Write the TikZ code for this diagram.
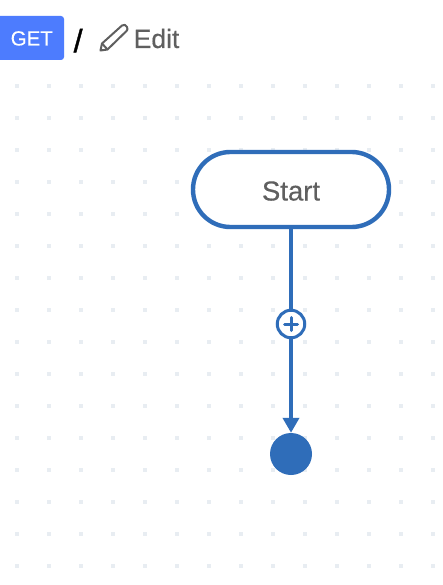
\documentclass[tikz,border=0pt]{standalone}
\usepackage{fontspec}
\setmainfont{Liberation Sans}
\newfontfamily\medfont[FakeBold=0.35]{Liberation Sans}
\newfontfamily\slashfont[FakeBold=1.2]{Liberation Sans}
\usetikzlibrary{arrows.meta}
\definecolor{flow}{HTML}{2F6DB9}
\definecolor{getblue}{HTML}{4D7CFE}
\definecolor{gtext}{HTML}{5F5F5F}
\definecolor{griddot}{HTML}{E8EDF2}
\tikzset{
  griddotstyle/.style={griddot,line width=0pt},
  startbox/.style={draw=flow,line width=4.4pt,fill=white,rounded corners=37.4pt,minimum width=196pt,minimum height=75pt,inner sep=0pt},
  endnode/.style={circle,fill=flow,minimum size=42pt,inner sep=0pt},
  plusnode/.style={circle,draw=flow,line width=3pt,fill=white,minimum size=27.5pt,inner sep=0pt},
  flowline/.style={draw=flow,line width=3.8pt},
  crumb/.style={inner sep=0pt,anchor=base west}
}
\begin{document}
\begin{tikzpicture}[x=1pt,y=-1pt]
\useasboundingbox (0,0) rectangle (442,585);
\fill[white] (0,0) rectangle (442,585);
\foreach \i in {0,...,13}{
  \foreach \j in {0,...,15}{
    \fill[griddotstyle] ({17+32*\i-2},{86+32*\j-2}) rectangle ++(4,4);
  }
}
\node[startbox] (start) at (291,189.5) {};
\node[crumb,text=gtext,font=\medfont\fontsize{27.5}{27.5}\selectfont,anchor=base] (startlabel) at (291,200.5) {Start};
\node[endnode] (end) at (291,454) {};
\draw[flowline,-{Triangle[length=15pt,width=16pt]}] (start.south) -- (end.north);
\node[plusnode] (plus) at (291,324) {};
\draw[flow,line width=3pt,line cap=round] ([xshift=-6.5pt]plus.center) -- ([xshift=6.5pt]plus.center);
\draw[flow,line width=3pt,line cap=round] ([yshift=-6.5pt]plus.center) -- ([yshift=6.5pt]plus.center);
\fill[getblue,rounded corners=3pt] (-4,16) rectangle (64,60);
\node[crumb,text=white,font=\medfont\fontsize{20.5}{20.5}\selectfont] (get) at (10.5,45.5) {GET};
\node[crumb,font=\slashfont\fontsize{32}{32}\selectfont] (slash) at (73.5,52) {/};
\draw[gtext,line width=2pt,line join=round] (100.5,50.5) -- (102,43.5) -- (122,25.5) .. controls (124,24) and (126,25) .. (127,27) .. controls (128,29) and (127.5,30) .. (126.5,31) -- (107.5,49.5) -- cycle;
\draw[gtext,line width=2pt] (102,43.5) -- (107.5,49.5);
\node[crumb,text=gtext,font=\medfont\fontsize{26.5}{26.5}\selectfont] (edit) at (133.5,48) {Edit};
\end{tikzpicture}
\end{document}
